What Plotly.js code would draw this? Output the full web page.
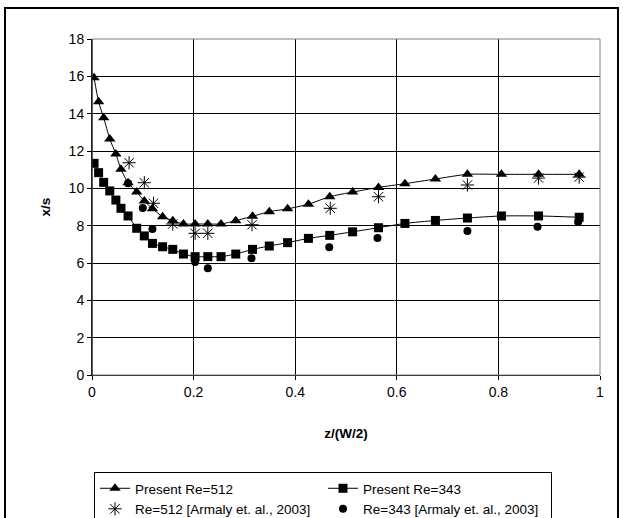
<!DOCTYPE html>
<html>
<head>
<meta charset="utf-8">
<script src="https://cdn.plot.ly/plotly-3.0.1.min.js"></script>
<style>
html,body{margin:0;padding:0;background:#fff;}
#chart{width:623px;height:518px;}
</style>
</head>
<body>
<div id="chart"></div>
<script>
// z/(W/2) positions of the present simulation points
const zPresent = [0.004, 0.013, 0.023, 0.035, 0.047, 0.057, 0.071, 0.088, 0.103, 0.119,
  0.139, 0.159, 0.180, 0.203, 0.228, 0.254, 0.283, 0.316, 0.349, 0.385,
  0.426, 0.468, 0.513, 0.564, 0.616, 0.676, 0.739, 0.806, 0.879, 0.959];
const present512 = [15.93, 14.64, 13.78, 12.64, 11.84, 11.02, 10.3, 9.8, 9.32, 8.91,
  8.48, 8.27, 8.09, 8.09, 8.09, 8.09, 8.27, 8.5, 8.75, 8.9,
  9.15, 9.55, 9.8, 10.05, 10.25, 10.5, 10.75, 10.75, 10.75, 10.75];
const present343 = [11.34, 10.84, 10.32, 9.86, 9.37, 8.93, 8.52, 7.86, 7.45, 7.05,
  6.87, 6.73, 6.48, 6.34, 6.34, 6.34, 6.48, 6.73, 6.91, 7.09,
  7.32, 7.48, 7.67, 7.89, 8.12, 8.28, 8.41, 8.52, 8.52, 8.45];
// Armaly et al. 2003 experiments
const zArmaly512 = [0.073, 0.103, 0.121, 0.159, 0.203, 0.228, 0.315, 0.469, 0.564, 0.739, 0.879, 0.959];
const armaly512 = [11.37, 10.3, 9.2, 8.09, 7.59, 7.59, 8.05, 8.93, 9.55, 10.18, 10.55, 10.6];
const zArmaly343 = [0.071, 0.100, 0.119, 0.203, 0.228, 0.314, 0.467, 0.562, 0.739, 0.877, 0.957];
const armaly343 = [10.27, 8.95, 7.82, 6.05, 5.72, 6.25, 6.84, 7.34, 7.71, 7.94, 8.2];

const names = ['Present Re=512', 'Present Re=343',
  'Re=512 [Armaly et. al., 2003]', 'Re=343 [Armaly et. al., 2003]'];
const xTicks = [0, 0.2, 0.4, 0.6, 0.8, 1];
const xTickText = ['0', '0.2', '0.4', '0.6', '0.8', '1'];
const yTicks = [0, 2, 4, 6, 8, 10, 12, 14, 16, 18];

const traces = [
  {x: zPresent, y: present512, name: names[0], mode: 'lines+markers',
   line: {color: '#000', width: 1, shape: 'spline', smoothing: 0.6},
   marker: {symbol: 'triangle-up', size: 10, color: '#000'}},
  {x: zPresent, y: present343, name: names[1], mode: 'lines+markers',
   line: {color: '#000', width: 1, shape: 'spline', smoothing: 0.6},
   marker: {symbol: 'square', size: 9, color: '#000'}},
  {x: zArmaly512, y: armaly512, name: names[2], mode: 'markers',
   marker: {symbol: 'asterisk-open', size: 11, color: '#000', line: {color: '#000', width: 1}}},
  {x: zArmaly343, y: armaly343, name: names[3], mode: 'markers',
   marker: {symbol: 'circle', size: 8, color: '#000'}}
];

const L = 92, R = 600, T = 39, B = 375;
const W = R - L, H = B - T;
const px = v => (v - L) / W;
const py = v => (B - v) / H;

const layout = {
  width: 623, height: 518,
  margin: {l: L, r: 623 - R, t: T, b: 518 - B, autoexpand: false},
  paper_bgcolor: '#fff', plot_bgcolor: '#fff',
  font: {family: 'Arial, "Liberation Sans", sans-serif', size: 13, color: '#000'},
  showlegend: true,
  xaxis: {
    range: [0, 1], tickvals: xTicks, ticktext: xTickText,
    showgrid: true, gridcolor: '#000', gridwidth: 1,
    zeroline: false, showline: true, linecolor: '#000', linewidth: 1,
    ticks: 'outside', ticklen: 4, tickcolor: '#000',
    tickfont: {size: 14},
    title: {text: '<b>z/(W/2)</b>', font: {size: 13.5}, standoff: 29}
  },
  yaxis: {
    range: [0, 18], tickvals: yTicks,
    showgrid: true, gridcolor: '#000', gridwidth: 1,
    zeroline: false, showline: true, linecolor: '#000', linewidth: 1,
    ticks: 'outside', ticklen: 4, tickcolor: '#000',
    tickfont: {size: 14},
    title: {text: '<b>x/s</b>', font: {size: 13.5}, standoff: 14}
  },
  legend: {
    orientation: 'h', xref: 'container', yref: 'container',
    x: 94 / 623, y: 1 - 472 / 518, xanchor: 'left', yanchor: 'top',
    entrywidth: 183, entrywidthmode: 'pixels',
    bordercolor: '#000', borderwidth: 1, bgcolor: '#fff',
    font: {size: 13.5}, tracegroupgap: 0, itemwidth: 30
  },
  shapes: [
    {type: 'rect', xref: 'paper', yref: 'paper', x0: 0, x1: 1, y0: 0, y1: 1,
     line: {color: '#808080', width: 1}, layer: 'above'},
    {type: 'line', xref: 'paper', yref: 'paper', x0: 0, x1: 0, y0: 0, y1: 1,
     line: {color: '#000', width: 1}, layer: 'above'},
    {type: 'rect', xref: 'paper', yref: 'paper', x0: px(5), x1: px(618), y0: py(8), y1: py(540),
     line: {color: '#000', width: 2}}
  ]
};

Plotly.newPlot('chart', traces, layout, {displayModeBar: false, staticPlot: true});
</script>
</body>
</html>
